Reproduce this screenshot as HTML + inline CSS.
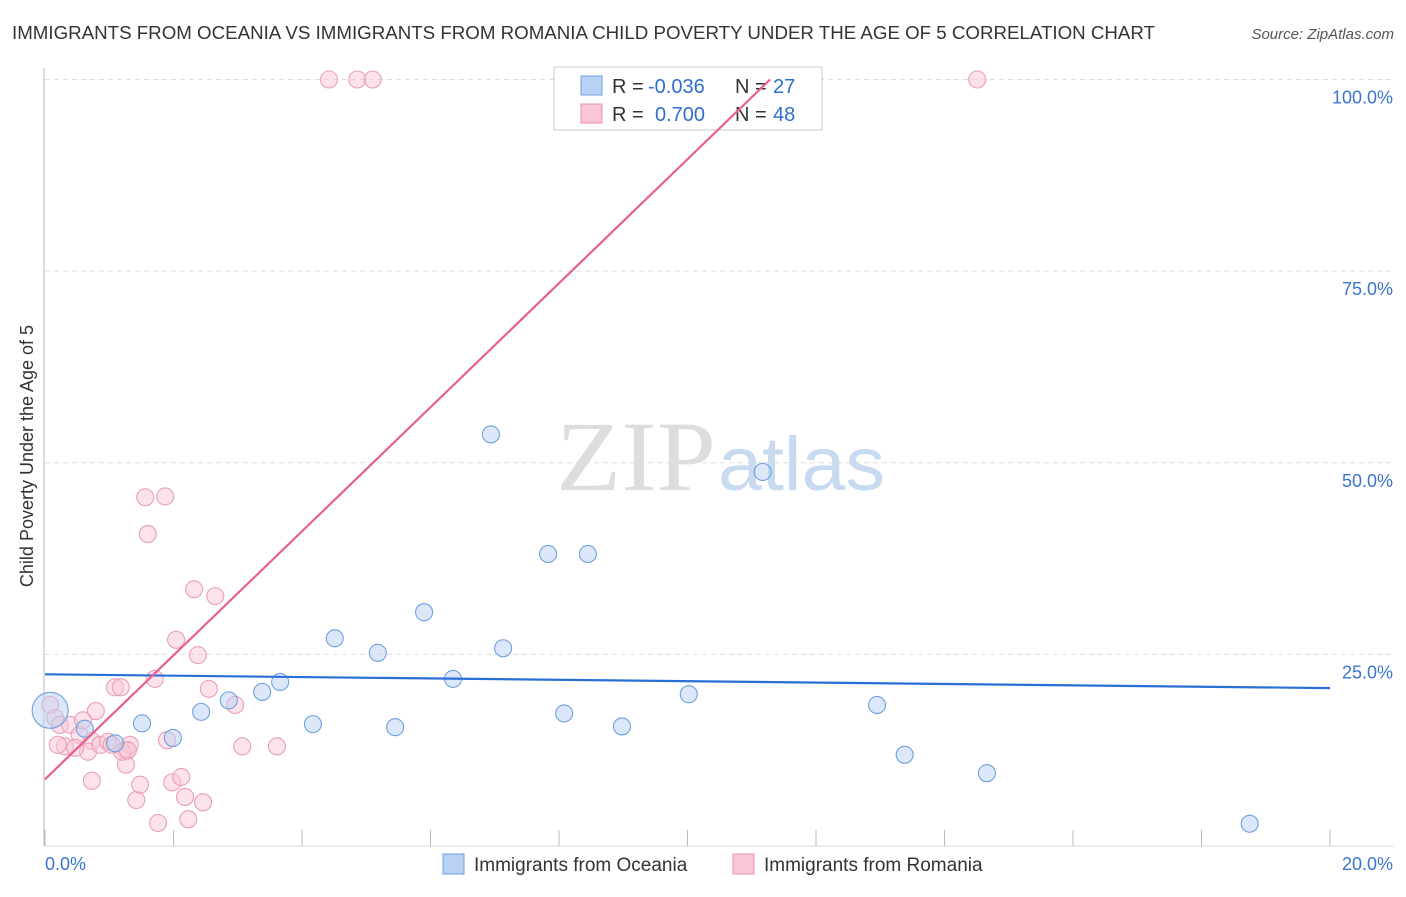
<!DOCTYPE html>
<html><head><meta charset="utf-8"><style>
body{margin:0;background:#fff;font-family:"Liberation Sans",sans-serif}
#c{position:relative;width:1406px;height:892px}
</style></head><body>
<div id="c">
<svg id="s" width="1406" height="892" xmlns="http://www.w3.org/2000/svg">
<text x="12" y="39" font-size="18" fill="#333" textLength="1143" lengthAdjust="spacingAndGlyphs">IMMIGRANTS FROM OCEANIA VS IMMIGRANTS FROM ROMANIA CHILD POVERTY UNDER THE AGE OF 5 CORRELATION CHART</text>
<text x="1394" y="39" font-size="15" fill="#555" font-style="italic" text-anchor="end">Source: ZipAtlas.com</text>
<text transform="translate(33,456) rotate(-90)" font-size="18" fill="#333" text-anchor="middle">Child Poverty Under the Age of 5</text>
<text x="716" y="490" font-size="100" fill="#ddd" text-anchor="end" font-family="Liberation Serif,serif" textLength="160" lengthAdjust="spacingAndGlyphs">ZIP</text>
<text x="718" y="490" font-size="76" fill="#c8daf0" textLength="167" lengthAdjust="spacingAndGlyphs">atlas</text>
<g id="grid"></g><g id="pts"></g>
<g>
<rect x="554" y="67" width="268" height="63" fill="#fff" stroke="#ccc"/>
<rect x="581" y="76" width="21" height="19" fill="#b9d2f3" stroke="#6f9fe0"/>
<rect x="581" y="104" width="21" height="19" fill="#f9c6d6" stroke="#ea8fb0"/>
<text x="612" y="93" font-size="20" fill="#333">R =</text>
<text x="648" y="93" font-size="20" fill="#2d6fd1">-0.036</text>
<text x="735" y="93" font-size="20" fill="#333">N =</text>
<text x="773" y="93" font-size="20" fill="#2d6fd1">27</text>
<text x="612" y="121" font-size="20" fill="#333">R =</text>
<text x="655" y="121" font-size="20" fill="#2d6fd1">0.700</text>
<text x="735" y="121" font-size="20" fill="#333">N =</text>
<text x="773" y="121" font-size="20" fill="#2d6fd1">48</text>
</g>
<g id="lines"></g>
<g>
<rect x="443" y="854" width="21" height="20" fill="#b9d2f3" stroke="#6f9fe0"/>
<text x="474" y="871" font-size="19" fill="#333">Immigrants from Oceania</text>
<rect x="733" y="854" width="21" height="20" fill="#f9c6d6" stroke="#ea8fb0"/>
<text x="764" y="871" font-size="19" fill="#333">Immigrants from Romania</text>
</g>
<text x="45" y="870" font-size="18" fill="#3a75d0">0.0%</text>
<text x="1393" y="870" font-size="18" fill="#3a75d0" text-anchor="end">20.0%</text>
</svg></div>
<script>
const yTicks=[100,75,50,25];
const yTickLabels=["100.0%","75.0%","50.0%","25.0%"];
const oceaniaX=[0.08,0.62,1.09,1.51,1.99,2.43,2.86,3.38,3.66,4.17,4.51,5.18,5.45,5.90,6.35,6.94,7.13,7.83,8.08,8.45,8.98,10.02,11.17,12.95,13.38,14.66,18.75];
const oceaniaY=[17.7,15.3,13.4,16.0,14.1,17.5,19.0,20.1,21.4,15.9,27.1,25.2,15.5,30.5,21.8,53.7,25.8,38.1,17.3,38.1,15.6,19.8,48.8,18.4,11.9,9.5,2.9];
const romaniaX=[4.42,4.86,5.10,14.51,0.08,0.16,0.23,0.31,0.39,0.54,0.73,0.79,0.67,0.86,0.98,1.09,1.18,1.25,1.26,1.42,1.48,1.56,1.60,1.71,1.76,1.87,1.90,1.98,2.12,2.04,2.18,2.23,2.32,2.38,2.46,2.55,2.65,2.96,3.07,3.61,1.32,1.20,0.59,0.20,1.04,0.73,1.29,0.47];
const romaniaY=[100,100,100,100,18.4,16.7,15.8,13.0,15.8,14.5,13.7,17.6,12.3,13.2,13.6,20.7,20.7,12.5,10.6,6.0,8.0,45.5,40.7,21.8,3.0,45.6,13.8,8.3,9.0,26.9,6.4,3.5,33.5,24.9,5.7,20.5,32.6,18.4,13.0,13.0,13.2,12.3,16.4,13.2,13.2,8.5,12.5,12.8];
const oceaniaTrend=[22.4,20.6];
const romaniaTrend=[8.7,8.09];
const NS="http://www.w3.org/2000/svg";
const X=v=>45+v/20*1285, Y=v=>846-v*7.665;
function mk(tag,at,par){const e=document.createElementNS(NS,tag);for(const k in at)e.setAttribute(k,at[k]);document.getElementById(par).appendChild(e);return e;}
yTicks.forEach((t,i)=>{
 const l=mk('line',{x1:45,x2:1394,y1:Y(t),y2:Y(t),stroke:'#ddd','stroke-dasharray':'5,4'},'grid');
 
 
 const tx=mk('text',{x:1393,y:Y(t)+24,'font-size':18,fill:'#3a75d0','text-anchor':'end'},'grid');
 tx.textContent=yTickLabels[i];
 
 
});
const ax=mk('line',{x1:44,x2:44,y1:68,y2:846,stroke:'#bbb'},'grid');


const bx=mk('line',{x1:44,x2:1394,y1:846,y2:846,stroke:'#ddd'},'grid');


for(let i=0;i<=10;i++){const t=mk('line',{x1:X(i*2),x2:X(i*2),y1:830,y2:846,stroke:'#bbb'},'grid');
 
 }
function pts(xs,ys,f,s,nm){xs.forEach((x,i)=>{const r=(i===0&&nm==='oceania-point')?18:8.5;
 const c=mk('circle',{cx:X(x),cy:Y(ys[i]),r:r,fill:f,'fill-opacity':0.5,stroke:s,'stroke-width':1.1},'pts');
 
 });}
pts(romaniaX,romaniaY,'#f9c6d6','#e8a0b8','romania-point');
pts(oceaniaX,oceaniaY,'#b9d2f3','#6f9fe0','oceania-point');
const bl=mk('line',{x1:X(0),y1:Y(oceaniaTrend[0]),x2:X(20),y2:Y(oceaniaTrend[1]),stroke:'#2a6fd6','stroke-width':2.2},'lines');


const xe=(100-romaniaTrend[0])/romaniaTrend[1];
const pl=mk('line',{x1:X(0),y1:Y(romaniaTrend[0]),x2:X(xe),y2:Y(100),stroke:'#e8608c','stroke-width':2.2},'lines');


</script>
</body></html>
